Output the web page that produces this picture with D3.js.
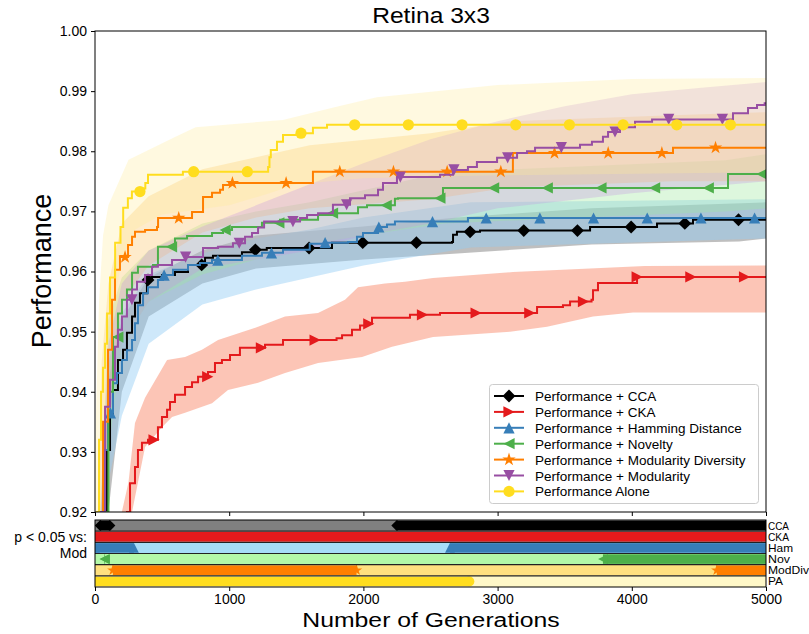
<!DOCTYPE html>
<html><head><meta charset="utf-8">
<script src="https://cdn.jsdelivr.net/npm/d3@7"></script>
<style>
body{margin:0;background:#fff}
svg{display:block}
text{font-family:"Liberation Sans",Arial,Helvetica,sans-serif;fill:#000}
</style>
</head><body>
<svg id="c" width="809" height="634"></svg>
<script>
// ---------------- data ----------------
const seriesKeys = ["CCA","CKA","Ham","Nov","ModDiv","Mod","PA"];
const legendLabels = ["Performance + CCA","Performance + CKA","Performance + Hamming Distance",
  "Performance + Novelty","Performance + Modularity Diversity","Performance + Modularity","Performance Alone"];

// mean performance (step curves) : [generation, value]
const ccaMean = [[0,0.88],[55,0.92],[89,0.9303],[112,0.9358],[134,0.9403],[171,0.9453],[209,0.947],[238,0.9498],[276,0.9525],[298,0.9548],[335,0.9564],[387,0.9586],[425,0.9591],[499,0.9594],[596,0.9599],[693,0.9611],[820,0.9623],[879,0.9626],[1095,0.9632],[1192,0.9636],[1280,0.9639],[1766,0.9648],[2660,0.9649],[2668,0.9661],[2697,0.9666],[2869,0.9668],[3689,0.9674],[4188,0.968],[4456,0.9686],[5000,0.9686]];
const ckaMean = [[0,0.86],[230,0.918],[238,0.92],[261,0.9248],[298,0.9275],[320,0.9303],[350,0.9315],[395,0.932],[469,0.9341],[499,0.9358],[537,0.937],[559,0.9383],[596,0.9395],[671,0.9408],[723,0.9416],[768,0.9425],[842,0.9433],[894,0.9448],[946,0.9453],[1006,0.9461],[1080,0.9473],[1267,0.9478],[1401,0.9486],[1800,0.9489],[1841,0.9494],[1915,0.9503],[1975,0.951],[2020,0.9513],[2064,0.9523],[2347,0.9528],[2571,0.9531],[3294,0.9541],[3487,0.9544],[3540,0.955],[3700,0.9553],[3711,0.9569],[3748,0.9581],[4039,0.9591],[5000,0.9591]];
const hamMean = [[0,0.88],[50,0.92],[75,0.9303],[97,0.9358],[112,0.9365],[134,0.9414],[164,0.9431],[201,0.9453],[238,0.9469],[276,0.9486],[298,0.9514],[320,0.9544],[358,0.9564],[395,0.9574],[469,0.9586],[507,0.9594],[581,0.9603],[693,0.9611],[782,0.9614],[872,0.9619],[1095,0.9626],[1244,0.9631],[1401,0.9636],[1600,0.9646],[1714,0.9648],[1885,0.9649],[1952,0.9658],[1997,0.9664],[2109,0.9674],[2176,0.9678],[2235,0.9683],[2779,0.9689],[5000,0.9689]];
const novMean = [[0,0.88],[45,0.92],[100,0.94],[134,0.9491],[171,0.953],[201,0.9553],[238,0.957],[276,0.9598],[320,0.9608],[432,0.9611],[469,0.9641],[596,0.9655],[686,0.9659],[872,0.9664],[954,0.9669],[1021,0.9674],[1244,0.9681],[1379,0.9686],[1662,0.9694],[1766,0.9697],[1960,0.9707],[2027,0.971],[2235,0.9721],[2258,0.9722],[2593,0.9739],[4717,0.9762],[5000,0.9762]];
const modDivMean = [[0,0.88],[37,0.92],[60,0.935],[97,0.947],[127,0.9553],[149,0.9603],[186,0.9624],[246,0.9644],[276,0.9658],[298,0.9666],[373,0.9669],[462,0.9674],[470,0.9689],[723,0.9699],[805,0.9724],[872,0.9731],[932,0.9736],[954,0.9744],[1000,0.9747],[1624,0.9766],[3114,0.9797],[4307,0.9806],[5000,0.9806]];
const modMean = [[0,0.88],[40,0.92],[75,0.9375],[112,0.942],[149,0.9475],[171,0.9503],[201,0.9525],[238,0.9553],[276,0.957],[313,0.9583],[373,0.9594],[425,0.9608],[469,0.9611],[574,0.9619],[671,0.9624],[805,0.9639],[917,0.9641],[1028,0.9647],[1118,0.9658],[1170,0.9664],[1215,0.9673],[1260,0.9683],[1528,0.9689],[1580,0.9694],[1662,0.9697],[1773,0.9711],[1900,0.9722],[2012,0.9727],[2109,0.9736],[2146,0.9747],[2250,0.9757],[2571,0.9761],[2668,0.9769],[2779,0.9774],[2846,0.9782],[2996,0.9789],[3145,0.9797],[3219,0.98],[3279,0.9806],[3614,0.9811],[3703,0.9816],[3785,0.9824],[3823,0.9832],[3912,0.984],[4024,0.9849],[4151,0.9853],[4754,0.9863],[4866,0.9872],[4933,0.9877],[4990,0.988],[5000,0.988]];
const paMean = [[0,0.88],[15,0.92],[30,0.932],[45,0.94],[60,0.944],[75,0.948],[90,0.953],[112,0.959],[150,0.9648],[190,0.9674],[210,0.9706],[245,0.9722],[275,0.9733],[340,0.9738],[375,0.9747],[395,0.9761],[655,0.9766],[1290,0.9774],[1300,0.979],[1310,0.9802],[1356,0.9816],[1401,0.9827],[1528,0.983],[1624,0.9839],[1729,0.9844],[5000,0.9844]];

// shaded spread around each mean: upper / lower edges
const ccaUpper = [[0,0.90],[100,0.942],[200,0.952],[400,0.959],[800,0.9635],[1200,0.966],[2000,0.9675],[2700,0.969],[3700,0.9705],[5000,0.9715]];
const ccaLower = [[0,0.88],[100,0.92],[200,0.94],[400,0.9525],[800,0.958],[1200,0.9605],[2000,0.962],[2700,0.963],[3700,0.9645],[4800,0.965],[5000,0.9655]];
const ckaUpper = [[0,0.90],[250,0.925],[298,0.9348],[373,0.939],[537,0.9453],[671,0.9458],[797,0.947],[917,0.9486],[1215,0.9508],[1416,0.9525],[1662,0.9531],[1863,0.9553],[1960,0.9574],[2161,0.958],[2310,0.9583],[2519,0.9589],[3115,0.9599],[4098,0.9609],[5000,0.961]];
const ckaLower = [[0,0.86],[276,0.92],[373,0.9308],[499,0.9341],[574,0.9358],[671,0.9365],[872,0.9381],[991,0.9403],[1215,0.9415],[1416,0.9431],[1662,0.9448],[1990,0.9458],[2213,0.9475],[2519,0.9491],[3092,0.95],[3368,0.9508],[3711,0.9525],[4009,0.9532],[5000,0.9532]];
const hamUpper = [[0,0.90],[100,0.945],[200,0.953],[400,0.9595],[800,0.963],[1200,0.9655],[1600,0.967],[2000,0.969],[2800,0.9715],[5000,0.972]];
const hamLower = [[0,0.88],[100,0.925],[200,0.936],[400,0.948],[800,0.9545],[1200,0.957],[1600,0.959],[2000,0.961],[2800,0.964],[5000,0.9655]];
const novUpper = [[0,0.90],[100,0.952],[200,0.959],[400,0.9635],[800,0.968],[1200,0.970],[1600,0.9715],[2000,0.9735],[2600,0.9765],[4700,0.9785],[5000,0.9795]];
const novLower = [[0,0.88],[100,0.93],[200,0.948],[400,0.955],[800,0.9595],[1200,0.962],[1600,0.9645],[2000,0.966],[2600,0.968],[4700,0.970],[5000,0.9705]];
const modDivUpper = [[0,0.90],[50,0.945],[100,0.958],[200,0.968],[400,0.9725],[800,0.977],[1200,0.979],[1600,0.981],[2500,0.983],[3100,0.985],[4300,0.986],[5000,0.9865]];
const modDivLower = [[0,0.88],[100,0.935],[200,0.955],[400,0.961],[800,0.9665],[1200,0.969],[1600,0.9705],[2500,0.972],[3100,0.974],[4300,0.975],[5000,0.975]];
const modUpper = [[0,0.90],[100,0.948],[200,0.958],[400,0.9635],[800,0.9675],[1200,0.971],[1600,0.9745],[2000,0.978],[2500,0.982],[3000,0.985],[3500,0.9875],[4000,0.9895],[4500,0.9905],[5000,0.9915]];
const modLower = [[0,0.88],[100,0.935],[200,0.948],[400,0.955],[800,0.9605],[1200,0.962],[1600,0.9635],[2000,0.966],[2500,0.968],[3000,0.9705],[4000,0.973],[5000,0.975]];
const paUpper = [[0,0.93],[30,0.955],[60,0.966],[100,0.971],[250,0.9786],[600,0.9824],[750,0.984],[1400,0.9852],[1800,0.9874],[2100,0.989],[3000,0.991],[4000,0.992],[5000,0.9922]];
const paLower = [[0,0.88],[50,0.93],[100,0.95],[200,0.962],[300,0.967],[500,0.9695],[1000,0.971],[1300,0.973],[1500,0.9745],[2000,0.9755],[3000,0.976],[5000,0.9765]];

// generation of the first marker of each series (markers every 400 generations)
const markerStarts = [395,440,115,170,224,275,335];
const markerEvery = 400;

// significance (p < 0.05 vs Mod) : generation ranges per comparison
const sigLabels = ["CCA","CKA","Ham","Nov","ModDiv","PA"];
const sigRanges = [
  [[40,110],[2250,5000]],
  [[0,5000]],
  [[0,290],[2645,5000]],
  [[70,75],[3785,5000]],
  [[133,1949],[4633,5000]],
  [[0,2790]]
];
const xTicks = [0,1000,2000,3000,4000,5000];
const yTicks = [0.92,0.93,0.94,0.95,0.96,0.97,0.98,0.99,1.00];

// ---------------- styling ----------------
const means = [ccaMean,ckaMean,hamMean,novMean,modDivMean,modMean,paMean];
const uppers = [ccaUpper,ckaUpper,hamUpper,novUpper,modDivUpper,modUpper,paUpper];
const lowers = [ccaLower,ckaLower,hamLower,novLower,modDivLower,modLower,paLower];
const colors = ["#000000","#e41a1c","#377eb8","#4daf4a","#ff7f00","#984ea3","#ffdd1f"];
const bandColors = ["#7f7f7f","#f98b6d","#92cdf5","#9de89d","#fbc56a","#c493e0","#ffeb99"];
const bandOpacity = [0.5,0.5,0.45,0.35,0.35,0.3,0.3];
const lightRow = ["#808080","#f4a3a3","#a6dcf8","#b3f8a8","#ffe07f","#fff8c8"];
const shapes = ["diamond","triRight","triUp","triLeft","star","triDown","circle"];
const sigShapes = ["diamond","triRight","triUp","triLeft","star","circle"];
const sigColors = [colors[0],colors[1],colors[2],colors[3],colors[4],colors[6]];

function shapePath(type, r){
  switch(type){
    case "diamond": return `M0,${-r*1.15}L${r*1.15},0L0,${r*1.15}L${-r*1.15},0Z`;
    case "triRight": return `M${r},0L${-r},${-r}L${-r},${r}Z`;
    case "triLeft": return `M${-r},0L${r},${-r}L${r},${r}Z`;
    case "triUp": return `M0,${-r}L${r},${r}L${-r},${r}Z`;
    case "triDown": return `M0,${r}L${r},${-r}L${-r},${-r}Z`;
    case "star": return d3.symbol(d3.symbolStar, r*r/0.89)();
    case "circle": return d3.symbol(d3.symbolCircle, Math.PI*r*r)();
  }
}
function markerR(type){ return type==="diamond"?5.6:(type==="star"?7:5.6); }

// ---------------- scales ----------------
const svg = d3.select("#c");
const X0=95, X1=766, YT=31, YB=512;
const x = d3.scaleLinear().domain([0,5000]).range([X0,X1]);
const y = d3.scaleLinear().domain([0.92,1.00]).range([YB,YT]);

const defs = svg.append("defs");
defs.append("clipPath").attr("id","plotclip").append("rect")
  .attr("x",X0).attr("y",YT).attr("width",X1-X0).attr("height",YB-YT);

function stepAt(arr,g){ let v=arr[0][1]; for(const p of arr){ if(p[0]<=g) v=p[1]; else break; } return v; }

const plot = svg.append("g").attr("clip-path","url(#plotclip)");

// bands
const bandLine = d3.line().x(d=>x(d[0])).y(d=>y(d[1]));
uppers.forEach((up,i)=>{
  const poly = up.concat(lowers[i].slice().reverse());
  plot.append("path").attr("d",bandLine(poly)+"Z")
    .attr("fill",bandColors[i]).attr("fill-opacity",bandOpacity[i]).attr("stroke","none");
});

// mean lines + markers
const stepLine = d3.line().x(d=>x(d[0])).y(d=>y(d[1])).curve(d3.curveStepAfter);
means.forEach((m,i)=>{
  plot.append("path").attr("d",stepLine(m)).attr("fill","none")
    .attr("stroke",colors[i]).attr("stroke-width",2);
  for(let g=markerStarts[i]; g<=5000; g+=markerEvery){
    plot.append("path").attr("d",shapePath(shapes[i], markerR(shapes[i])))
      .attr("transform",`translate(${x(g)},${y(stepAt(m,g))})`)
      .attr("fill",colors[i]);
  }
});

// axes of main plot
svg.append("rect").attr("x",X0).attr("y",YT).attr("width",X1-X0).attr("height",YB-YT)
  .attr("fill","none").attr("stroke","#000").attr("stroke-width",1);
const yAxis = svg.append("g").attr("transform",`translate(${X0},0)`)
  .call(d3.axisLeft(y).tickValues(yTicks).tickFormat(d3.format(".2f")).tickSize(4).tickPadding(4));
yAxis.select(".domain").remove();
yAxis.selectAll("text").style("font-size","14px").style("font-family","'Liberation Sans',Arial,sans-serif");
const xAxisTop = svg.append("g").attr("transform",`translate(0,${YB})`)
  .call(d3.axisBottom(x).tickValues(xTicks).tickFormat("").tickSize(4));
xAxisTop.select(".domain").remove();

// title and y label
svg.append("text").attr("transform",`translate(431,23) scale(1.12,1)`).attr("text-anchor","middle")
  .style("font-size","22px").text("Retina 3x3");
svg.append("text").attr("transform","translate(51,271) rotate(-90)").attr("text-anchor","middle")
  .style("font-size","27px").text("Performance");

// legend
const lg = svg.append("g");
lg.append("rect").attr("x",489.5).attr("y",384.5).attr("width",269).attr("height",119).attr("rx",3)
  .attr("fill","#fff").attr("fill-opacity",0.85).attr("stroke","#cccccc");
legendLabels.forEach((lab,i)=>{
  const yy = 396 + i*15.9;
  lg.append("line").attr("x1",494).attr("x2",524).attr("y1",yy).attr("y2",yy)
    .attr("stroke",colors[i]).attr("stroke-width",2);
  lg.append("path").attr("d",shapePath(shapes[i], markerR(shapes[i])))
    .attr("transform",`translate(509,${yy})`).attr("fill",colors[i]);
  lg.append("text").attr("x",535).attr("y",yy+5).style("font-size","13.5px").text(lab);
});

// ---------------- significance panel ----------------
const PT=520, PB=587;
const row = d3.scaleBand().domain(sigLabels).range([PT,PB]);
const rh = row.bandwidth();
defs.append("clipPath").attr("id","panelclip").append("rect")
  .attr("x",X0).attr("y",PT).attr("width",X1-X0).attr("height",PB-PT);
const panel = svg.append("g").attr("clip-path","url(#panelclip)");
sigLabels.forEach((lab,i)=>{
  const y0 = row(lab);
  panel.append("rect").attr("x",X0).attr("y",y0).attr("width",X1-X0).attr("height",rh).attr("fill",lightRow[i]);
  sigRanges[i].forEach(([a,b])=>{
    panel.append("rect").attr("x",x(a)).attr("y",y0+0.8).attr("width",Math.max(0,x(b)-x(a))).attr("height",rh-1.6)
      .attr("fill",sigColors[i]);
    [a,b].forEach(g=>{
      panel.append("path").attr("d",shapePath(sigShapes[i], sigShapes[i]==="star"?6:4.9))
        .attr("transform",`translate(${x(g)},${y0+rh/2})`).attr("fill",sigColors[i]);
    });
  });
  if(i>0) svg.append("line").attr("x1",X0).attr("x2",X1).attr("y1",y0).attr("y2",y0).attr("stroke","#222").attr("stroke-width",1.2);
});
svg.append("rect").attr("x",X0).attr("y",PT).attr("width",X1-X0).attr("height",PB-PT)
  .attr("fill","none").attr("stroke","#000").attr("stroke-width",1);
const rightLens = [21,21,25,22,41,15];
sigLabels.forEach((lab,i)=>{
  svg.append("text").attr("x",768).attr("y",row(lab)+rh/2+4).style("font-size","10.5px")
    .attr("textLength",rightLens[i]).attr("lengthAdjust","spacingAndGlyphs").text(lab);
});
svg.append("text").attr("x",87).attr("y",542).attr("text-anchor","end").style("font-size","14px").text("p < 0.05 vs:");
svg.append("text").attr("x",87).attr("y",558).attr("text-anchor","end").style("font-size","14px").text("Mod");

const xAxis = svg.append("g").attr("transform",`translate(0,${PB})`)
  .call(d3.axisBottom(x).tickValues(xTicks).tickFormat(d3.format("d")).tickSize(4).tickPadding(3));
xAxis.select(".domain").remove();
xAxis.selectAll("text").style("font-size","14px").style("font-family","'Liberation Sans',Arial,sans-serif");

svg.append("text").attr("transform",`translate(431,627) scale(1.18,1)`).attr("text-anchor","middle")
  .style("font-size","21px").text("Number of Generations");
</script>
</body></html>
